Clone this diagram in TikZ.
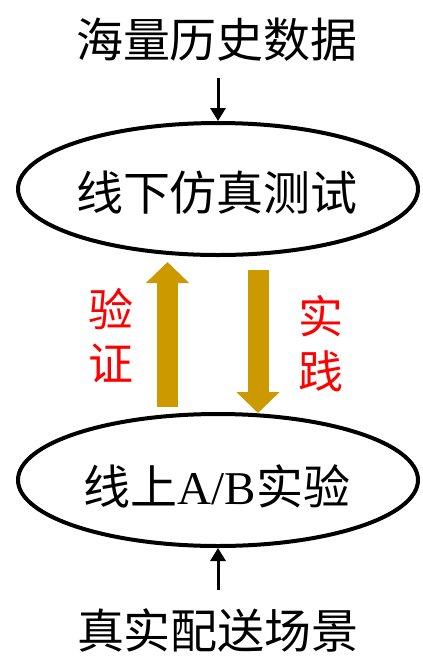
\documentclass[tikz,border=0pt]{standalone}
\usepackage{fontspec}
\setmainfont{Liberation Serif}
\newfontfamily\cjk{Noto Sans CJK SC}
\usetikzlibrary{shapes.geometric,arrows.meta}
\definecolor{gold}{HTML}{CC9900}
\definecolor{myred}{HTML}{FF0000}
\tikzset{
  bigtext/.style={font=\cjk\fontsize{47pt}{52pt}\selectfont, inner sep=0pt},
  redtext/.style={font=\cjk\fontsize{45pt}{50pt}\selectfont, text=myred, inner sep=0pt},
  oval/.style={ellipse, draw=black, line width=4pt, minimum width=400pt, minimum height=132pt, inner sep=0pt},
  thinarrow/.style={line width=3pt, -{Triangle[width=15pt,length=13pt]}},
  goldarrow/.style={draw=gold, line width=21pt, -{Triangle[width=42pt,length=21pt]}}
}
\begin{document}
\begin{tikzpicture}[x=1pt,y=-1pt]
\useasboundingbox (0,0) rectangle (423,657);
\node[bigtext] (src) at (217,40) {海量历史数据};
\node[oval] (sim) at (218,189) {};
\node[bigtext] (simtxt) at (217,193) {线下仿真测试};
\node[oval] (ab) at (218,480) {};
\node[bigtext] (abtxt) at (217,486) {\cjk 线上{\rmfamily A/B}实验};
\node[bigtext] (real) at (218,630) {真实配送场景};
\draw[thinarrow] (218,78) coordinate (s1) -- (sim.north);
\coordinate (r1) at (218,590);
\draw[thinarrow] (r1) -- (ab.south);
\coordinate (u1) at (167.5,407);
\coordinate (u2) at (167.5,262);
\draw[goldarrow] (u1) -- (u2);
\coordinate (d1) at (258,270);
\coordinate (d2) at (258,413);
\draw[goldarrow] (d1) -- (d2);
\node[redtext] (v1) at (111,309) {验};
\node[redtext] (v2) at (111,363) {证};
\node[redtext] (p1) at (321,316) {实};
\node[redtext] (p2) at (321,371) {践};
\end{tikzpicture}
\end{document}
